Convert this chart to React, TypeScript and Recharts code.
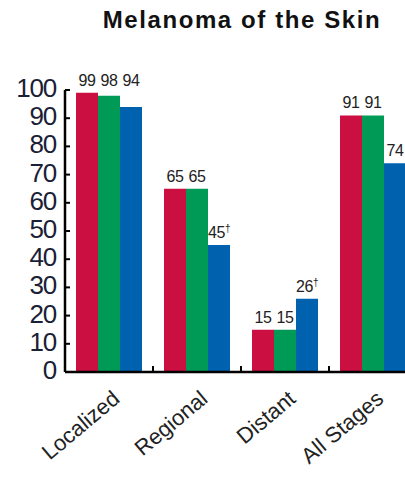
import { BarChart, Bar, XAxis, YAxis, LabelList } from 'recharts';

// five-year relative survival (%) by stage at diagnosis
const stages = ['Localized', 'Regional', 'Distant', 'All Stages'];
const groupA = [99, 65, 15, 91];
const groupB = [98, 65, 15, 91];
const groupC = [94, 45, 26, 74];
const groupCMarks = ['', '†', '†', ''];
const yTicks = [0, 10, 20, 30, 40, 50, 60, 70, 80, 90, 100];

const RED = '#cb0f41';
const GREEN = '#009a57';
const BLUE = '#0061ae';

const FONT = '"Liberation Sans", Arial, Helvetica, sans-serif';

const CHART_W = 417;
const CHART_H = 483;
const Y_AXIS_W = 65;
const X_AXIS_H = 111;
const TOP = 90;
const PLOT_W = CHART_W - Y_AXIS_W;
const BAND = PLOT_W / stages.length;
const Y_TICK_SIZE = 5;
const Y_TICK_MARGIN = 4;

const rows = stages.map((stage, i) => ({
  stage,
  a: groupA[i],
  b: groupB[i],
  c: groupC[i],
}));

// value labels: bars close to the tallest in their group share its label line
function makeLabel(marks?: string[]) {
  return (props: any) => {
    const x = Number(props.x);
    const y = Number(props.y);
    const width = Number(props.width);
    const height = Number(props.height);
    const value = Number(props.value);
    const row = rows[props.index];
    if (!row || !value) return null;
    const top = Math.max(row.a, row.b, row.c);
    const level = top - value <= 5 ? top : value;
    const base = y + height;
    const ly = base - (level * height) / value - 7;
    const mark = marks ? marks[props.index] : '';
    return (
      <text
        x={x + width / 2}
        y={ly}
        textAnchor="middle"
        fontFamily={FONT}
        fontSize={16}
        letterSpacing={-0.4}
        fill="#222"
      >
        {value}
        {mark ? (
          <tspan fontSize={10} dy={-6}>
            {mark}
          </tspan>
        ) : null}
      </text>
    );
  };
}

function YTick(props: any) {
  const { x, y, payload } = props;
  const axisX = x + Y_TICK_SIZE + Y_TICK_MARGIN;
  return (
    <g>
      <line x1={axisX} x2={axisX + 5} y1={y} y2={y} stroke="#000" strokeWidth={2} />
      <text
        x={x}
        y={y + 7}
        textAnchor="end"
        fontFamily={FONT}
        fontSize={26}
        letterSpacing={-1.2}
        fill="#1a2036"
      >
        {payload.value}
      </text>
    </g>
  );
}

function XTick(props: any) {
  const { x, y, payload, index } = props;
  const lx = x + 12;
  const ly = y + 29;
  return (
    <g>
      {index > 0 ? (
        <line
          x1={x - BAND / 2}
          x2={x - BAND / 2}
          y1={y}
          y2={y - 6}
          stroke="#000"
          strokeWidth={2}
        />
      ) : null}
      <text
        x={lx}
        y={ly}
        textAnchor="end"
        transform={`rotate(-40, ${lx}, ${ly})`}
        fontFamily={FONT}
        fontSize={22}
        fill="#222"
      >
        {payload.value}
      </text>
    </g>
  );
}

export default function App() {
  return (
    <div
      style={{
        position: 'absolute',
        left: 0,
        top: 0,
        width: 405,
        height: 483,
        overflow: 'hidden',
        background: '#fff',
      }}
    >
      <div
        style={{
          position: 'absolute',
          left: 100,
          top: 8,
          width: 284,
          textAlign: 'center',
          fontFamily: FONT,
          fontWeight: 'bold',
          fontSize: 24,
          lineHeight: 1,
          letterSpacing: 1.6,
          color: '#111',
          whiteSpace: 'nowrap',
        }}
      >
        Melanoma of the Skin
      </div>
      <div style={{ position: 'absolute', left: 0, top: 0 }}>
        <BarChart
          width={CHART_W}
          height={CHART_H}
          data={rows}
          margin={{ top: TOP, right: 0, left: 0, bottom: 0 }}
          barCategoryGap={11}
          barGap={0}
        >
          <XAxis
            dataKey="stage"
            height={X_AXIS_H}
            interval={0}
            tickSize={0}
            tickMargin={0}
            tickLine={false}
            axisLine={{ stroke: '#000', strokeWidth: 2.5 }}
            tick={<XTick />}
          />
          <YAxis
            width={Y_AXIS_W}
            domain={[0, 100]}
            ticks={yTicks}
            interval={0}
            tickSize={Y_TICK_SIZE}
            tickMargin={Y_TICK_MARGIN}
            tickLine={false}
            axisLine={{ stroke: '#000', strokeWidth: 2.5 }}
            tick={<YTick />}
          />
          <Bar dataKey="a" fill={RED} isAnimationActive={false}>
            <LabelList dataKey="a" content={makeLabel()} />
          </Bar>
          <Bar dataKey="b" fill={GREEN} isAnimationActive={false}>
            <LabelList dataKey="b" content={makeLabel()} />
          </Bar>
          <Bar dataKey="c" fill={BLUE} isAnimationActive={false}>
            <LabelList dataKey="c" content={makeLabel(groupCMarks)} />
          </Bar>
        </BarChart>
      </div>
    </div>
  );
}
